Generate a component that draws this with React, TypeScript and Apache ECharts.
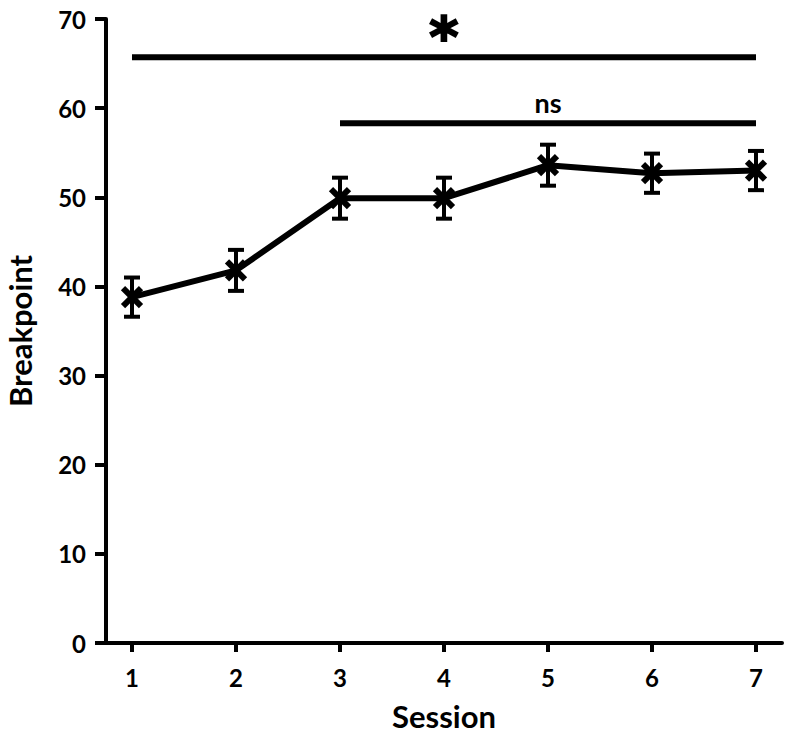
import React, { useEffect, useRef } from "react";
import * as echarts from "echarts";

const sessions = [1, 2, 3, 4, 5, 6, 7];
const breakpointMean = [38.8, 41.8, 49.9, 49.9, 53.6, 52.7, 53.0];
const breakpointSem = [2.2, 2.3, 2.3, 2.3, 2.3, 2.2, 2.2];
const yTicks = [0, 10, 20, 30, 40, 50, 60, 70];
const sigAll = { from: 1, to: 7, y: 65.7, label: "*", labelAt: 4, labelY: 68.0 };
const sigNs = { from: 3, to: 7, y: 58.3, label: "ns", labelAt: 5, labelY: 60.6 };

const FONT = "Lato";

export default function App() {
  const ref = useRef<HTMLDivElement>(null);
  useEffect(() => {
    if (!ref.current) return;
    const chart = echarts.init(ref.current, null, { renderer: "svg" });
    const lineData = sessions.map((s, i) => [s, breakpointMean[i]]);
    const errData = sessions.map((s, i) => [s, breakpointMean[i], breakpointSem[i]]);
    chart.setOption({
      animation: false,
      backgroundColor: "#ffffff",
      grid: { left: 106, right: 4, top: 19, bottom: 96, containLabel: false, outerBoundsMode: "none" },
      xAxis: {
        type: "value",
        min: 0.75,
        max: 7.25,
        name: "Session",
        nameLocation: "middle",
        nameGap: 57,
        nameTextStyle: { fontFamily: FONT, fontWeight: "bold", fontSize: 31, color: "#000" },
        axisLine: { onZero: false, lineStyle: { color: "#000", width: 4 } },
        axisTick: { show: true, length: 9, customValues: sessions, lineStyle: { color: "#000", width: 4 } },
        axisLabel: {
          customValues: sessions,
          margin: 22,
          fontFamily: FONT,
          fontWeight: "bold",
          fontSize: 24,
          color: "#000",
        },
        splitLine: { show: false },
      },
      yAxis: {
        type: "value",
        min: 0,
        max: 70,
        interval: 10,
        name: "Breakpoint",
        nameLocation: "middle",
        nameGap: 71,
        nameTextStyle: { fontFamily: FONT, fontWeight: "bold", fontSize: 31, lineHeight: 31, color: "#000" },
        axisLine: { show: true, onZero: false, lineStyle: { color: "#000", width: 4 } },
        axisTick: { show: true, length: 11, customValues: yTicks, lineStyle: { color: "#000", width: 4 } },
        axisLabel: {
          customValues: yTicks,
          margin: 20,
          fontFamily: FONT,
          fontWeight: "bold",
          fontSize: 24,
          color: "#000",
        },
        splitLine: { show: false },
      },
      series: [
        {
          type: "line",
          data: [[sigAll.from, sigAll.y], [sigAll.to, sigAll.y]],
          symbol: "none",
          lineStyle: { color: "#000", width: 6, cap: "butt" },
          silent: true,
        },
        {
          type: "line",
          data: [[sigNs.from, sigNs.y], [sigNs.to, sigNs.y]],
          symbol: "none",
          lineStyle: { color: "#000", width: 6, cap: "butt" },
          silent: true,
        },
        {
          type: "scatter",
          data: [[sigAll.labelAt, sigAll.labelY]],
          symbolSize: 0,
          silent: true,
          itemStyle: { opacity: 1, color: "#000" },
          label: {
            show: true,
            position: "inside",
            formatter: sigAll.label,
            fontFamily: "DejaVu Sans",
            fontWeight: "bold",
            fontSize: 56,
            lineHeight: 56,
            color: "#000",
            textBorderColor: "#000",
            textBorderWidth: 2,
            opacity: 1,
          },
        },
        {
          type: "scatter",
          data: [[sigNs.labelAt, sigNs.labelY]],
          symbolSize: 0,
          silent: true,
          itemStyle: { opacity: 1, color: "#000" },
          label: {
            show: true,
            position: "inside",
            formatter: sigNs.label,
            fontFamily: FONT,
            fontWeight: "bold",
            fontSize: 27,
            color: "#000",
            opacity: 1,
          },
        },
        {
          type: "line",
          data: lineData,
          symbol: "none",
          lineStyle: { color: "#000", width: 6 },
          silent: true,
          z: 3,
        },
        {
          type: "custom",
          data: errData,
          z: 4,
          silent: true,
          renderItem: (params: any, api: any) => {
            const x = api.value(0);
            const y = api.value(1);
            const e = api.value(2);
            const c = api.coord([x, y]);
            const hi = api.coord([x, y + e]);
            const lo = api.coord([x, y - e]);
            const cap = 8;
            const m = 9;
            const st = { stroke: "#000", lineWidth: 4 };
            return {
              type: "group",
              children: [
                { type: "line", shape: { x1: c[0], y1: hi[1], x2: c[0], y2: lo[1] }, style: st },
                { type: "line", shape: { x1: c[0] - cap, y1: hi[1], x2: c[0] + cap, y2: hi[1] }, style: st },
                { type: "line", shape: { x1: c[0] - cap, y1: lo[1], x2: c[0] + cap, y2: lo[1] }, style: st },
                {
                  type: "line",
                  shape: { x1: c[0] - m, y1: c[1] - m, x2: c[0] + m, y2: c[1] + m },
                  style: { stroke: "#000", lineWidth: 6 },
                },
                {
                  type: "line",
                  shape: { x1: c[0] - m, y1: c[1] + m, x2: c[0] + m, y2: c[1] - m },
                  style: { stroke: "#000", lineWidth: 6 },
                },
              ],
            };
          },
        },
      ],
    });
    return () => chart.dispose();
  }, []);
  return (
    <div
      ref={ref}
      style={{ position: "fixed", left: 0, top: 0, width: 786, height: 739, background: "#fff" }}
    />
  );
}
